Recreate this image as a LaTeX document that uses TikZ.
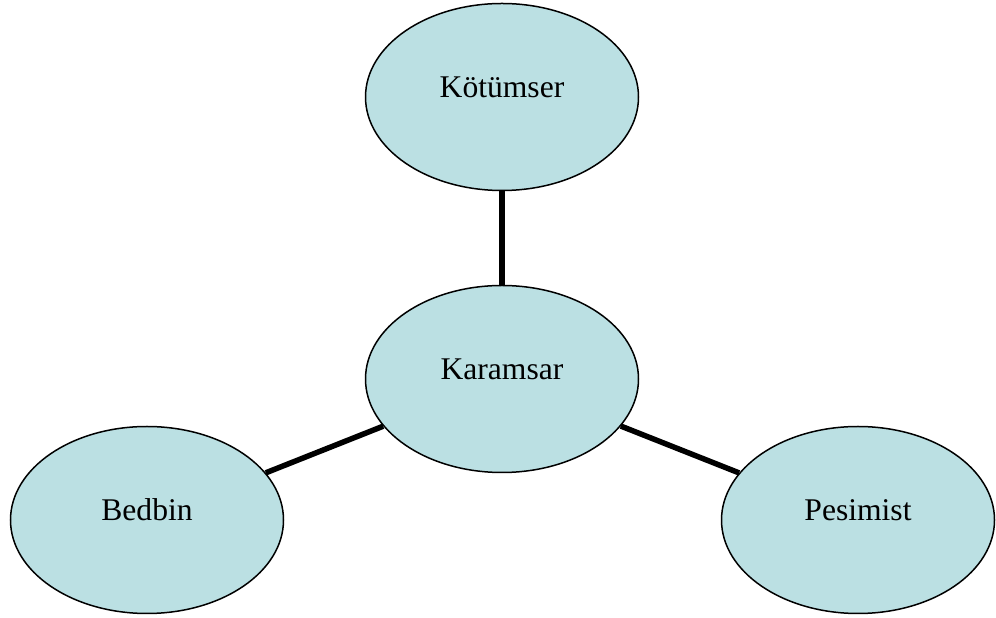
\documentclass[tikz,border=0pt]{standalone}
\usepackage{fontspec}
\setmainfont{Liberation Serif}
\usetikzlibrary{shapes.geometric}
\definecolor{bubblecyan}{RGB}{187,224,227}

\begin{document}
\begin{tikzpicture}[x=1pt, y=1pt,
			bubble/.style={
				ellipse,
				draw = black,
				line width = 1.5pt,
				fill = bubblecyan,
				minimum width = 273pt,
				minimum height = 187pt,
				inner sep = 0pt,
				text height = 22pt,
				text depth = 20pt,
				font = \fontsize{31.6}{38}\selectfont},
			link/.style={
				line width = 5.5pt,
				black}]
			\useasboundingbox (0, 0) rectangle (996, 618);
			\node (karamsar) at (502, 239) [bubble] {Karamsar};
			\node (kotumser) at (502, 521) [bubble] {Kötümser};
			\node (bedbin) at (147, 98) [bubble] {Bedbin};
			\node (pesimist) at (858, 98) [bubble] {Pesimist};
			\draw[link] (kotumser) -- (karamsar);
			\draw[link] (karamsar) -- (bedbin);
			\draw[link] (karamsar) -- (pesimist);
			\end{tikzpicture}
\end{document}
